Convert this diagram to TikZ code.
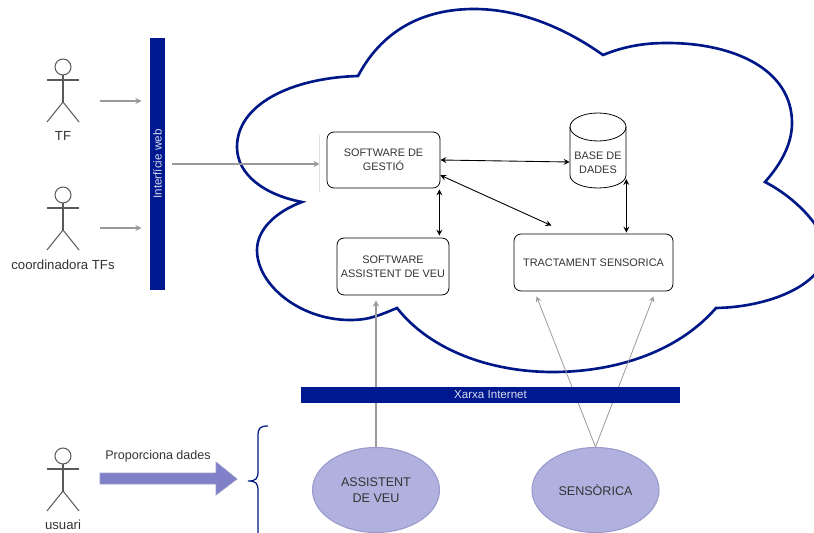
\documentclass[tikz,border=0pt]{standalone}
\usepackage{fontspec}
\setmainfont{Liberation Sans}
\usetikzlibrary{calc,shapes.geometric}
\definecolor{navy}{HTML}{00188F}
\definecolor{lilac}{HTML}{B1B1E0}
\definecolor{lilacline}{HTML}{9A9ACB}
\definecolor{arrowfill}{HTML}{8080C8}
\definecolor{inktext}{HTML}{333333}
\tikzset{
  >=stealth,
  actorfig/.pic={
    \draw[black!65,line width=.6pt] (0,0) circle (8);
    \draw[black!65,line width=.6pt] (-16,13) -- (16,13);
    \draw[black!65,line width=.6pt] (0,8) -- (0,35);
    \draw[black!65,line width=.6pt] (-16,55) -- (0,35) -- (16,55);
  },
  actorlabel/.style={text=inktext,font=\fontsize{7.5}{9}\selectfont},
  softbox/.style={draw,rounded corners=4pt,line width=.45pt,align=center,inner sep=0pt,text=inktext,font=\fontsize{6.2}{7.9}\selectfont},
  netbar/.style={fill=navy,inner sep=0pt,text=white!85!navy,font=\fontsize{6.6}{8}\selectfont},
  device/.style={ellipse,fill=lilac,draw=lilacline,line width=.6pt,inner sep=0pt,minimum width=127*.02cm,minimum height=85*.02cm,align=center,text=inktext,font=\fontsize{7.15}{9}\selectfont},
  duplex/.style={<->,line width=.5pt},
  greyarrow/.style={->,black!40,line width=.6pt}
}
\begin{document}
\begin{tikzpicture}[x=.02cm,y=-.02cm]
\useasboundingbox (0,0) rectangle (814,533);

\begin{scope}
\clip (0,0) rectangle (814,533);
\draw[navy!95!black,line width=1.5pt] (358,76)
  .. controls (385,25) and (430,9) .. (474,9)
  .. controls (520,9) and (565,28) .. (603,55)
  .. controls (625,46) and (645,43) .. (667,43)
  .. controls (735,43) and (792,70) .. (792,123)
  .. controls (792,145) and (780,165) .. (765,182)
  .. controls (800,200) and (830,235) .. (825,255)
  .. controls (820,285) and (770,307) .. (716,308)
  .. controls (675,355) and (610,372) .. (553,372)
  .. controls (490,372) and (430,350) .. (397,308)
  .. controls (380,315) and (370,320) .. (350,320)
  .. controls (300,320) and (257,285) .. (257,250)
  .. controls (257,230) and (275,212) .. (302,202)
  .. controls (265,195) and (237,175) .. (237,147)
  .. controls (237,105) and (290,78) .. (358,76) -- cycle;
\end{scope}

\draw (63,67) pic{actorfig};
\draw (63,195) pic{actorfig};
\draw (63,456) pic{actorfig};
\draw (63,136) node(TF)[actorlabel]{TF};
\draw (63,265) node(COORD)[actorlabel]{coordinadora TFs};
\draw (63,525) node(USUARI)[actorlabel]{usuari};

\draw (157.5,164) node(WEB)[netbar,minimum width=15*.02cm,minimum height=252*.02cm]{\rotatebox{90}{Interfície web}};

\draw (383.5,160) node(GESTIO)[softbox,minimum width=113*.02cm,minimum height=56*.02cm]{SOFTWARE DE\\GESTIÓ};
\draw (393,266.5) node(ASSIST)[softbox,minimum width=112*.02cm,minimum height=57*.02cm]{SOFTWARE\\ASSISTENT DE VEU};
\draw (593.5,262.5) node(TRACT)[softbox,minimum width=159*.02cm,minimum height=57*.02cm]{TRACTAMENT SENSORICA};

\draw (598,163) node(BD)[minimum width=56*.02cm,inner sep=0pt,align=center,text=inktext,font=\fontsize{6.2}{7.9}\selectfont]{BASE DE\\DADES};
\draw[line width=.45pt] (598,127) ellipse (28 and 14);
\draw[line width=.45pt] (570,127) -- (570,175) .. controls (570,183) and (583,188) .. (598,188) .. controls (613,188) and (626,183) .. (626,175) -- (626,127);

\draw (376,490) node(VEU)[device]{ASSISTENT\\DE VEU};
\draw (595.5,490) node(SENS)[device]{SENSÒRICA};

\coordinate (TFOUT) at (100,101);
\coordinate (COOUT) at (100,228);
\coordinate (WEBOUT) at (172,164);
\draw[greyarrow] (TFOUT) -- ($(WEB.west |- TFOUT)+(-8,0)$);
\draw[greyarrow] (COOUT) -- ($(WEB.west |- COOUT)+(-8,0)$);
\draw[greyarrow] (WEBOUT) -- ($(GESTIO.west)+(-7,4)$);
\draw[black!12,line width=.3pt] ($(GESTIO.west)+(-7,-25)$) -- ($(GESTIO.west)+(-7,32)$);

\draw[duplex] (GESTIO.east) -- ($(BD.west)+(0,-1)$);
\draw[duplex] (GESTIO.-15) -- ($(TRACT.north)+(-42,-8)$);
\draw[duplex] ($(GESTIO.south east)+(-1,1)$) -- ($(GESTIO.south east |- ASSIST.north)+(-1,-2)$);
\draw[duplex] ($(BD.east)+(0,16)$) -- ($(BD.east |- TRACT.north)+(0,-1)$);

\draw[greyarrow] (VEU.north) -- ($(VEU.north |- ASSIST.south)+(0,5)$);
\draw[greyarrow,line width=.45pt] (SENS.north) -- ($(TRACT.south)+(-57,5)$);
\draw[greyarrow,line width=.45pt] (SENS.north) -- ($(TRACT.south)+(60,5)$);

\draw (490.5,395) node(XARXA)[netbar,minimum width=379*.02cm,minimum height=16*.02cm]{Xarxa Internet};

\draw[fill=arrowfill,draw=lilacline,line width=.4pt] (100,473) -- (216,473) -- (216,462) -- (237,479) -- (216,495) -- (216,484) -- (100,484) -- cycle;
\draw (158,456) node(DADES)[text=inktext,font=\fontsize{7.15}{9}\selectfont]{Proporciona dades};

\draw[navy!90!black,line width=.7pt] (268,426) .. controls (260,426) and (258,428) .. (258,436) -- (258,471) .. controls (258,479) and (256,481) .. (248,481) .. controls (256,481) and (258,483) .. (258,491) -- (258,533);

\end{tikzpicture}
\end{document}
